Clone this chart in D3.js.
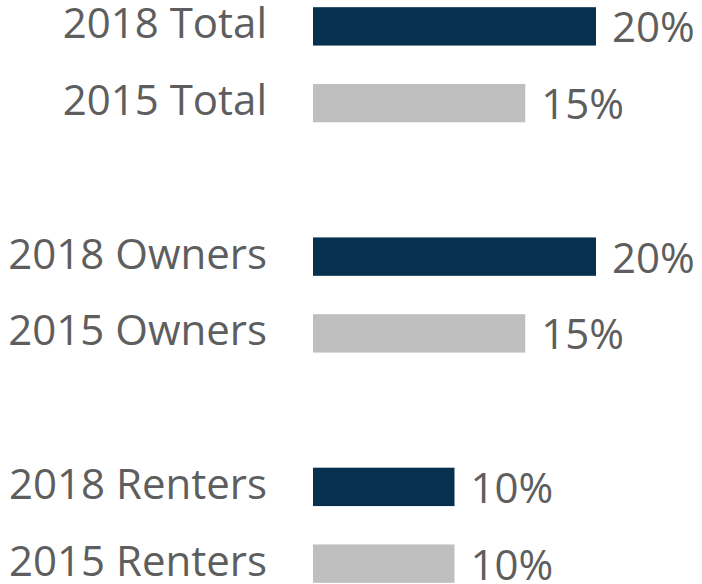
<!DOCTYPE html>
<html>
<meta charset="utf-8">
<style>
  body { margin: 0; background: #fff; }
  .label, .value {
    font-family: "Open Sans", "Noto Sans", sans-serif;
    font-size: 42px;
    fill: #5e5e5e;
  }
</style>
<body>
  <script src="https://d3js.org/d3.v7.min.js"></script>
  <script>
    // data
    let groups = ["Total", "Owners", "Renters"];
    let years = ["2018", "2015"];
    let values2018 = [20, 20, 10];
    let values2015 = [15, 15, 10];

    let width = 702,
      height = 584;

    // build rows, with an empty slot between groups
    let rows = [];
    groups.forEach(function (g, i) {
      if (i > 0) rows.push({ key: "gap" + i, blank: true });
      rows.push({ key: years[0] + " " + g, year: years[0], value: values2018[i] });
      rows.push({ key: years[1] + " " + g, year: years[1], value: values2015[i] });
    });

    let colors = { "2018": "#07304f", "2015": "#bfbfbf" };

    let svg = d3.select("body").append("svg")
      .attr("width", width)
      .attr("height", height);

    let y = d3.scaleBand()
      .domain(rows.map(d => d.key))
      .range([-12, 602])
      .paddingInner(0.5)
      .paddingOuter(0.25);

    let x = d3.scaleLinear()
      .domain([0, 20])
      .range([313, 596]);

    let bars = rows.filter(d => !d.blank);
    let mid = d => y(d.key) + y.bandwidth() / 2;

    svg.selectAll(".bar")
      .data(bars)
      .enter().append("rect")
      .attr("class", "bar")
      .attr("x", x(0))
      .attr("y", d => y(d.key))
      .attr("width", d => x(d.value) - x(0))
      .attr("height", y.bandwidth())
      .attr("fill", d => colors[d.year]);

    // category labels on the left
    svg.selectAll(".label")
      .data(bars)
      .enter().append("text")
      .attr("class", "label")
      .attr("x", 267)
      .attr("y", d => mid(d) - 3)
      .attr("dy", "0.357em")
      .attr("text-anchor", "end")
      .text(d => d.key);

    // value labels after the bars
    svg.selectAll(".value")
      .data(bars)
      .enter().append("text")
      .attr("class", "value")
      .attr("x", d => x(d.value) + 16)
      .attr("y", d => mid(d) + 1)
      .attr("dy", "0.357em")
      .text(d => d.value + "%");
  </script>
</body>
</html>
